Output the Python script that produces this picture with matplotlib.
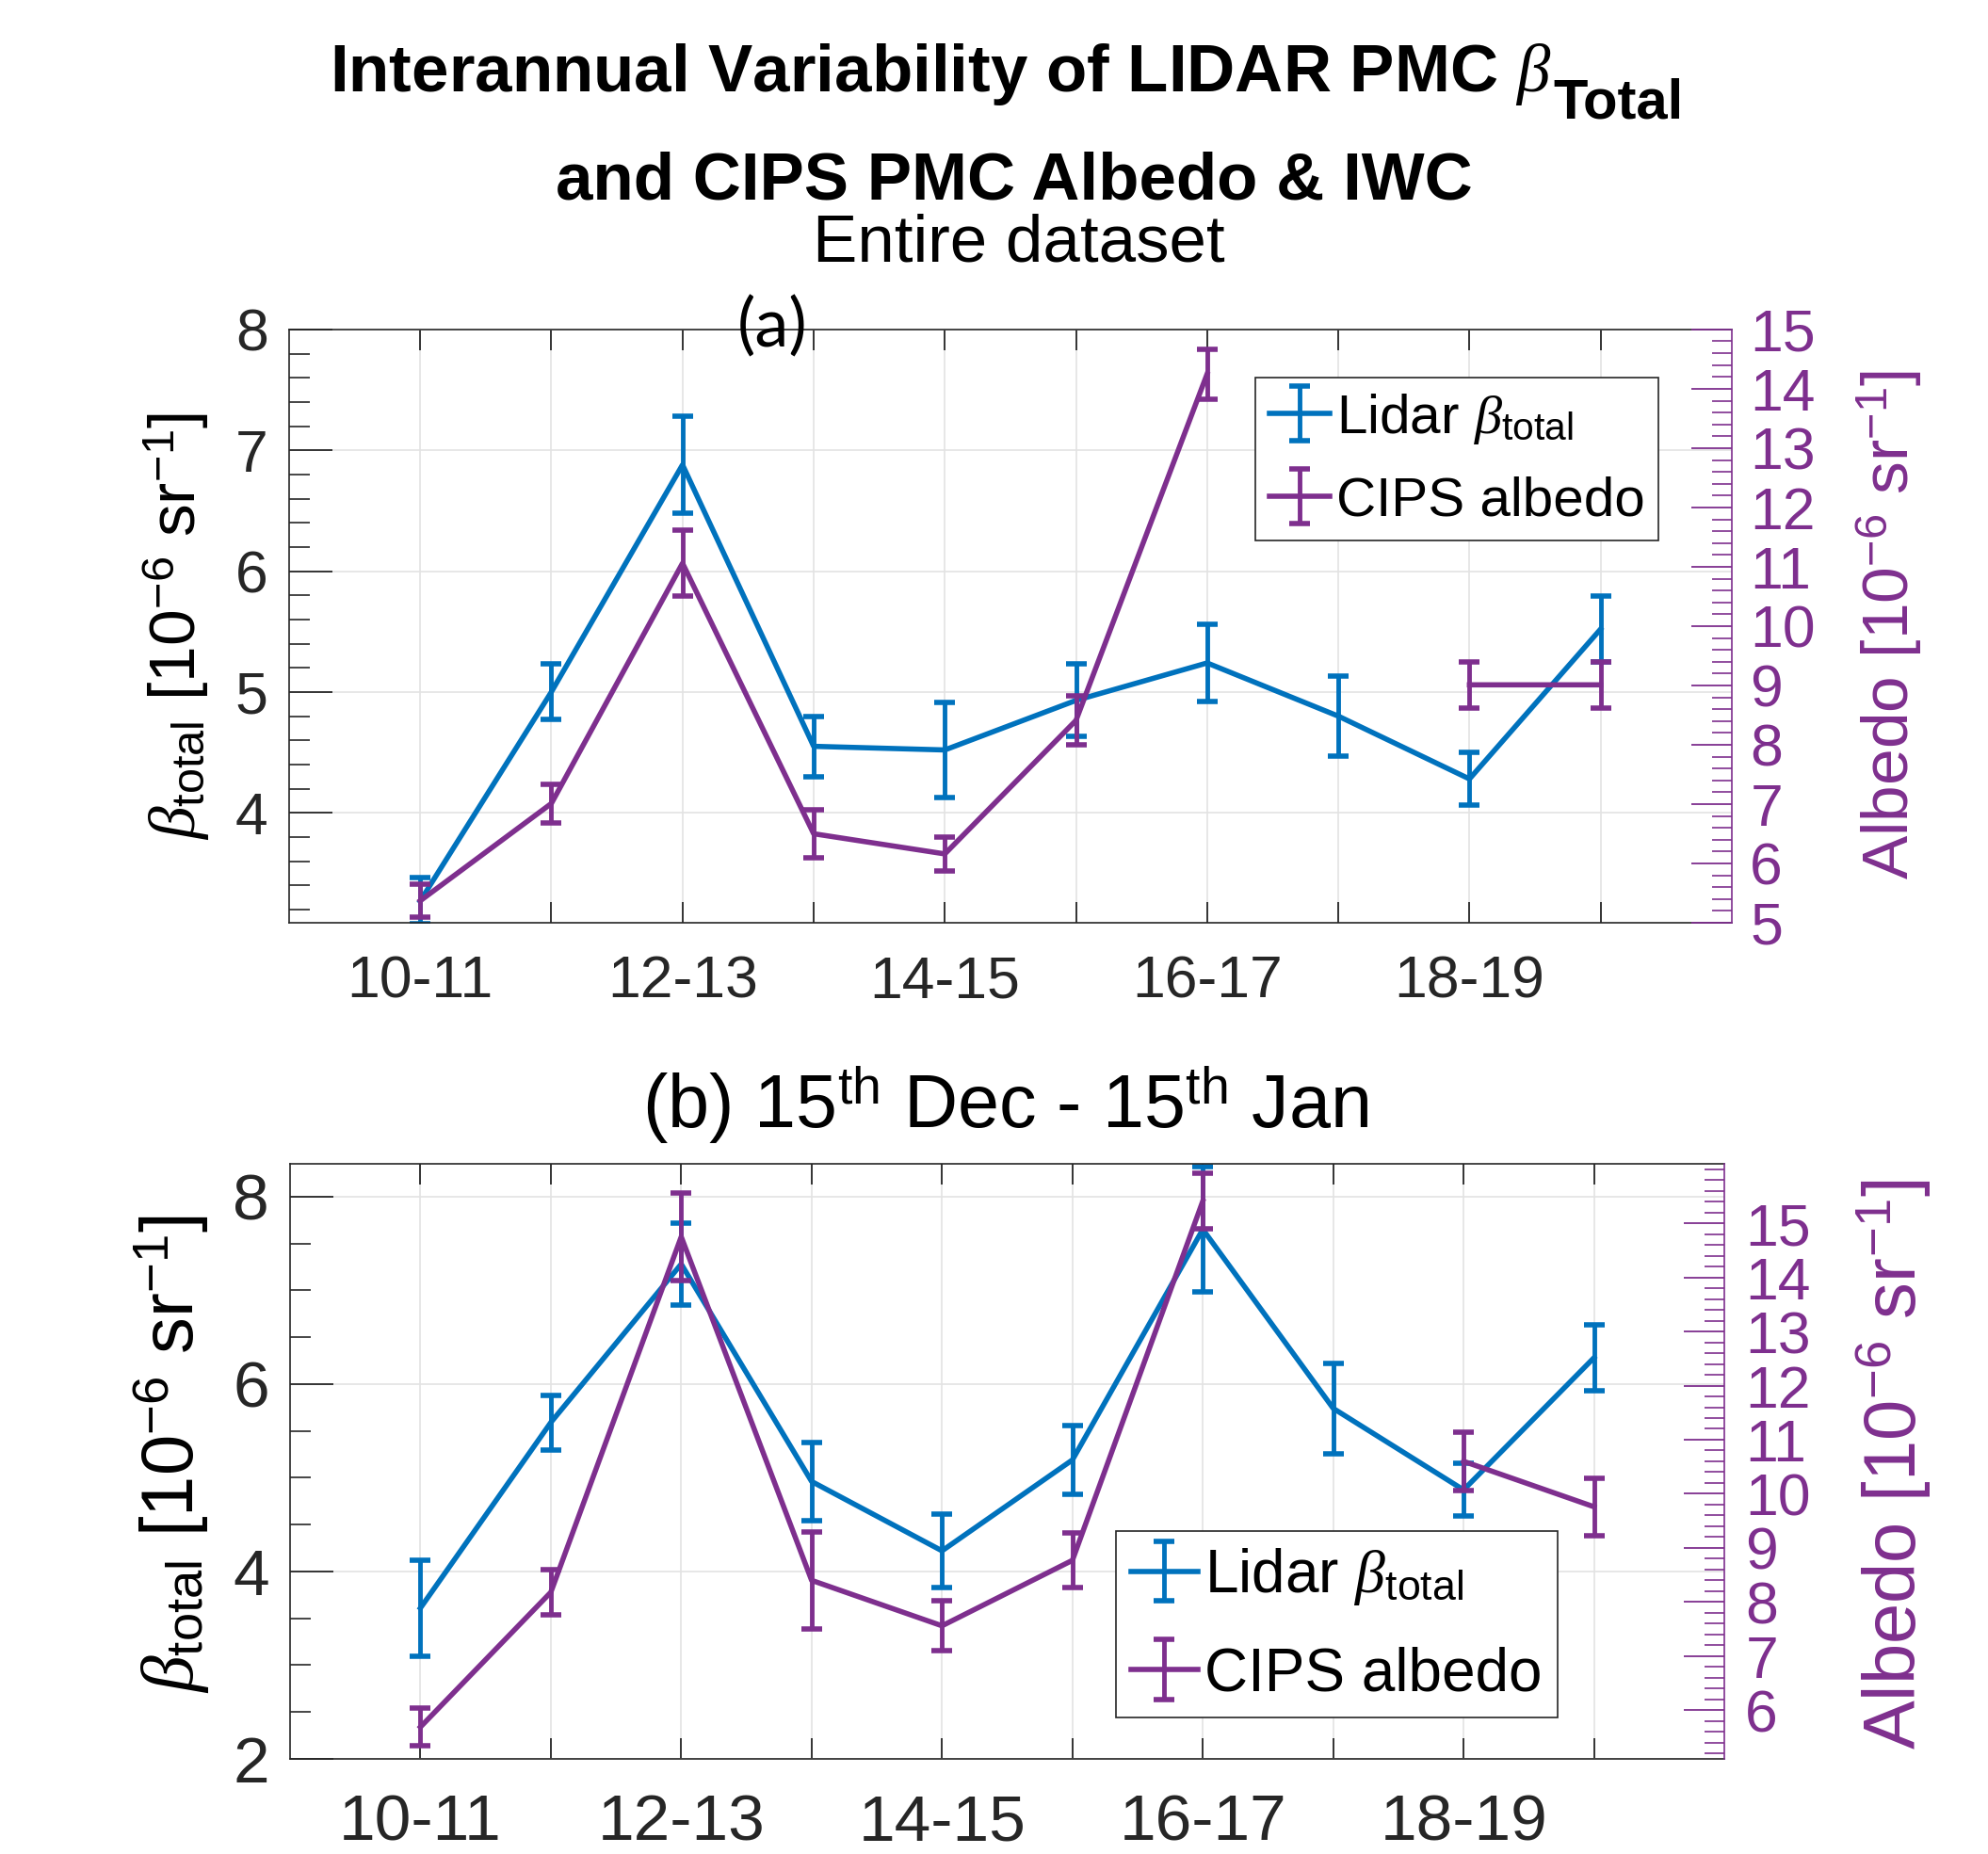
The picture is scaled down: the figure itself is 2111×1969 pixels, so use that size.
import numpy as np
import matplotlib
matplotlib.use('Agg')
import matplotlib.pyplot as plt
from matplotlib.ticker import MultipleLocator, FixedLocator

plt.rcParams['font.family'] = ['Liberation Sans', 'DejaVu Sans']
plt.rcParams['mathtext.fontset'] = 'custom'
plt.rcParams['mathtext.rm'] = 'Liberation Sans'
plt.rcParams['mathtext.it'] = 'Liberation Serif:italic'
plt.rcParams['mathtext.bf'] = 'Liberation Sans:bold'

# ---------------- data ----------------
seasons = ['10-11', '11-12', '12-13', '13-14', '14-15', '15-16', '16-17', '17-18', '18-19', '19-20']
tick_labels = ['10-11', '', '12-13', '', '14-15', '', '16-17', '', '18-19', '']

lidar_a = [3.27, 5.00, 6.88, 4.55, 4.52, 4.93, 5.24, 4.80, 4.28, 5.52]
lidar_a_err = [0.19, 0.23, 0.40, 0.25, 0.39, 0.30, 0.32, 0.33, 0.22, 0.27]
cips_a = [5.37, 7.01, 11.06, 6.50, 6.16, 8.41, 14.25, np.nan, 9.01, 9.01]
cips_a_err = [0.28, 0.33, 0.55, 0.40, 0.28, 0.41, 0.42, np.nan, 0.39, 0.39]

lidar_b = [3.61, 5.59, 7.28, 4.96, 4.22, 5.19, 7.65, 5.74, 4.87, 6.28]
lidar_b_err = [0.51, 0.29, 0.44, 0.42, 0.39, 0.37, 0.67, 0.48, 0.28, 0.35]
cips_b = [5.69, 8.18, 14.75, 8.40, 7.56, 8.77, 15.41, np.nan, 10.60, 9.76]
cips_b_err = [0.35, 0.42, 0.81, 0.90, 0.46, 0.50, 0.51, np.nan, 0.54, 0.53]

BLUE = '#0072BD'
PURPLE = '#7E2F8E'
DARK = '#262626'

W, H = 2111, 1969
fig = plt.figure(figsize=(W / 100, H / 100), dpi=100)


def panel(rect, lidar, lerr, cips, cerr, ylim_l, ylim_r, lmaj, lmin, rmaj,
          tick_fs, rtick_fs, lab_fs, leg_fs, leg_anchor, llab_xy, rlab_xy,
          xpad, lpad, rpad, labsp):
    x = np.arange(len(seasons))
    ax = fig.add_axes(rect)
    ax2 = ax.twinx()
    ax.set_zorder(1)
    ax2.set_zorder(2)
    ax.patch.set_visible(False)
    ax2.patch.set_visible(False)

    h1 = ax.errorbar(x, lidar, yerr=lerr, color=BLUE, lw=4, elinewidth=3.5,
                     capsize=8, capthick=4, label=r'Lidar $\beta_{\rm total}$')
    h2 = ax2.errorbar(x, cips, yerr=cerr, color=PURPLE, lw=4, elinewidth=3.5,
                      capsize=8, capthick=4, label='CIPS albedo')

    ax.set_xlim(-1, 10)
    ax.set_ylim(*ylim_l)
    ax2.set_ylim(*ylim_r)
    ax.set_xticks(x)
    ax.set_xticklabels(tick_labels)
    ax.yaxis.set_major_locator(FixedLocator(lmaj))
    ax.yaxis.set_minor_locator(MultipleLocator(lmin))
    ax2.yaxis.set_major_locator(FixedLocator(rmaj))
    ax2.yaxis.set_minor_locator(MultipleLocator(0.2))

    ax.grid(True, which='major', color='#e3e3e3', lw=1.2)
    ax.set_axisbelow(True)

    ax.tick_params(axis='x', which='major', direction='in', length=16, width=1.3,
                   top=True, labelsize=tick_fs, pad=xpad, colors=DARK)
    ax.tick_params(axis='y', which='major', direction='in', length=33, width=1.3,
                   labelsize=tick_fs, pad=lpad, colors=DARK, right=False)
    ax.tick_params(axis='y', which='minor', direction='in', length=16, width=1.2,
                   colors=DARK, right=False)
    ax2.tick_params(axis='y', which='major', direction='in', length=31, width=1.3,
                    labelsize=rtick_fs, pad=rpad, colors=PURPLE)
    ax2.tick_params(axis='y', which='minor', direction='in', length=15, width=1.2,
                    colors=PURPLE)

    for s in ['left', 'top', 'bottom']:
        ax.spines[s].set_color(DARK)
        ax.spines[s].set_linewidth(1.2)
        ax2.spines[s].set_visible(False)
    ax.spines['right'].set_visible(False)
    ax2.spines['right'].set_color(PURPLE)
    ax2.spines['right'].set_linewidth(1.2)

    ax.set_ylabel(r'$\beta_{\rm total}$ [10$^{-6}$ sr$^{-1}$]', fontsize=lab_fs,
                  color='black', va='center', ha='center')
    ax.yaxis.set_label_coords(*llab_xy)
    ax2.set_ylabel(r'Albedo [10$^{-6}$ sr$^{-1}$]', fontsize=lab_fs,
                   color=PURPLE, rotation=90, va='center', ha='center')
    ax2.yaxis.set_label_coords(*rlab_xy)

    leg = ax2.legend([h1, h2], [h1.get_label(), h2.get_label()], loc='upper left',
                     bbox_to_anchor=leg_anchor, borderaxespad=0, fontsize=leg_fs,
                     frameon=True, fancybox=False, edgecolor=DARK, framealpha=1,
                     handlelength=1.1, handletextpad=0.12, borderpad=0.25,
                     labelspacing=labsp)
    leg.get_frame().set_linewidth(1.2)
    return ax, ax2


ax_a, ax_a2 = panel([0.1454, 0.5023, 0.7257, 0.320], lidar_a, lidar_a_err, cips_a, cips_a_err,
                    (3.09, 8.0), (5, 15), [4, 5, 6, 7, 8], 0.2, np.arange(5, 16, 1),
                    45, 45, 50, 42, (0.670, 0.919), (-0.078, 0.5), (1.109, 0.503),
                    24, 16, 14, 0.55)
ax_b, ax_b2 = panel([0.1459, 0.0513, 0.7215, 0.321], lidar_b, lidar_b_err, cips_b, cips_b_err,
                    (2.0, 8.35), (5.1, 16.1), [2, 4, 6, 8], 0.5, np.arange(6, 16, 1),
                    50, 45, 56, 46, (0.576, 0.383), (-0.083, 0.513), (1.118, 0.495),
                    26, 16, 16, 0.65)

# ---- title line 1 with a large, dropped bold subscript ----
renderer = fig.canvas.get_renderer()
y1 = 0.9507
t_main = fig.text(0, y1, r'Interannual Variability of LIDAR PMC $\beta$',
                  ha='left', va='baseline', fontsize=51, fontweight='bold')
t_sub = fig.text(0, y1 - 28 / H, 'Total', ha='left', va='baseline',
                 fontsize=43, fontweight='bold')
w1 = t_main.get_window_extent(renderer).width
w2 = t_sub.get_window_extent(renderer).width
cx = 1068
left_px = cx - (w1 + w2) / 2
t_main.set_x(left_px / W)
t_sub.set_x((left_px + w1 + 2) / W)

fig.text(0.510, 0.8928, 'and CIPS PMC Albedo & IWC', ha='center', va='baseline',
         fontsize=51, fontweight='bold')
fig.text(0.5127, 0.8593, 'Entire dataset', ha='center', va='baseline', fontsize=51)
fig.text(0.3885, 0.813, '(a)', ha='center', va='baseline', fontsize=52, family='Lato')
fig.text(0.506, 0.3916, r'(b) 15$^{\rm th}$ Dec - 15$^{\rm th}$ Jan', ha='center',
         va='baseline', fontsize=57)

fig.savefig('out.png', dpi=100)
